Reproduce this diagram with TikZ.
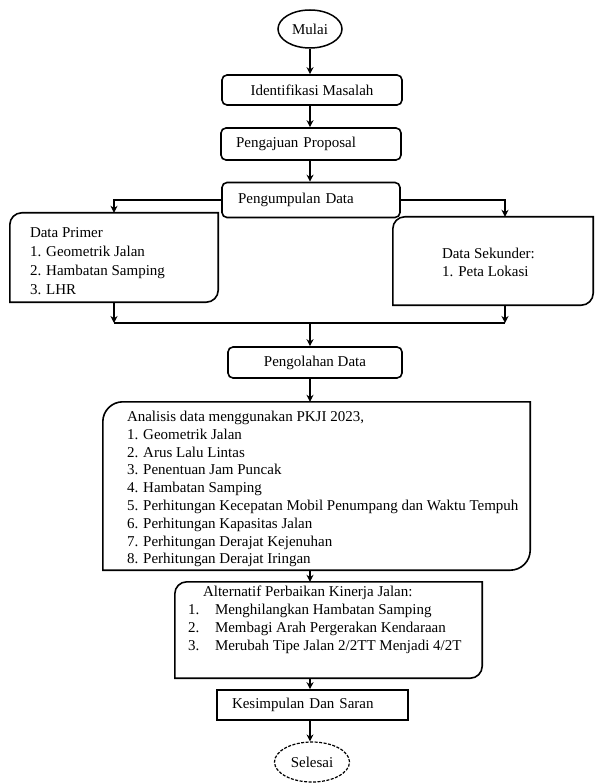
\documentclass[tikz,border=0pt]{standalone}
\usepackage{fontspec}
\setmainfont{Liberation Serif}
\usetikzlibrary{arrows.meta,shapes.geometric}
\def\leafbox(#1)(#2){\draw[line width=1.6pt] (#1.south west) -- ([yshift=-#2]#1.north west) arc (180:90:#2) -- (#1.north east) -- ([yshift=#2]#1.south east) arc (0:-90:#2) -- cycle;}
\tikzset{
	box/.style={draw, line width=1.6pt, rounded corners=5pt, minimum height=30pt, inner sep=0pt},
	leaf/.style={inner sep=0pt},
	leaftext/.style={anchor=north west, align=left, inner sep=0pt},
	ends/.style={ellipse, draw, line width=1.5pt, inner sep=0pt},
	link/.style={line width=1.6pt, -{Stealth[length=7pt,width=7pt]}},
	bar/.style={line width=2.6pt}
}

\begin{document}
\begin{tikzpicture}[x=1pt, y=1pt, font=\fontsize{15}{17.8}\selectfont]
			%%%%% START %%%%%
			\useasboundingbox (0,0) rectangle (595,-783);
			
			\node[ends, minimum width=64pt, minimum height=38pt] (mulai) at (310,-29) {Mulai};
			\node[box, minimum width=180pt] (ident) at (312,-90) {Identifikasi Masalah};
			\node[box, minimum width=180pt, minimum height=32pt, text width=150pt, align=left] (proposal) at (311,-144) {Pengajuan Proposal};
			\node[box, minimum width=178pt, minimum height=35pt, text width=146pt, align=left] (kumpul) at (311,-200) {Pengumpulan Data};
			
			\node[leaf, minimum width=208pt, minimum height=89pt] (primer) at (114,-257.5) {};
			\leafbox(primer)(12pt);
			\node[leaftext, font=\fontsize{15}{19}\selectfont] (primertext) at ([xshift=20pt,yshift=-15pt]primer.north west) {Data Primer\\1. Geometrik Jalan\\2. Hambatan Samping\\3. LHR};
			
			\node[leaf, minimum width=200pt, minimum height=88pt] (sekunder) at (493,-261) {};
			\leafbox(sekunder)(12pt);
			\node[leaftext, font=\fontsize{15}{18}\selectfont] (sekundertext) at ([xshift=49pt,yshift=-31pt]sekunder.north west) {Data Sekunder:\\1. Peta Lokasi};
			
			\coordinate (gabung) at (310,-323);
			\coordinate (kanan) at ([xshift=12pt]sekunder.north);
			
			\node[box, minimum width=174pt, minimum height=31pt] (olah) at (315,-362.5) {Pengolahan Data};
			
			\node[leaf, minimum width=427pt, minimum height=168pt] (analisis) at (316.5,-486) {};
			\leafbox(analisis)(20pt);
			\node[leaftext] (analisistext) at ([xshift=24pt,yshift=-9pt]analisis.north west) {Analisis data menggunakan PKJI 2023,\\1. Geometrik Jalan\\2. Arus Lalu Lintas\\3. Penentuan Jam Puncak\\4. Hambatan Samping\\5. Perhitungan Kecepatan Mobil Penumpang dan Waktu Tempuh\\6. Perhitungan Kapasitas Jalan\\7. Perhitungan Derajat Kejenuhan\\8. Perhitungan Derajat Iringan};
			
			\node[leaf, minimum width=307pt, minimum height=96pt] (alternatif) at (328.5,-630) {};
			\leafbox(alternatif)(12pt);
			\node[leaftext, font=\fontsize{15}{18}\selectfont] (alternatiftext) at ([xshift=13pt,yshift=-4pt]alternatif.north west) {\hspace*{15pt}Alternatif Perbaikan Kinerja Jalan:\\\makebox[27pt][l]{1.}Menghilangkan Hambatan Samping\\\makebox[27pt][l]{2.}Membagi Arah Pergerakan Kendaraan\\\makebox[27pt][l]{3.}Merubah Tipe Jalan 2/2TT Menjadi 4/2T};
			
			\node[box, rounded corners=0pt, minimum width=191pt, text width=161pt, align=left] (simpul) at (312.5,-705) {Kesimpulan Dan Saran};
			\node[ends, line width=1.2pt, dash pattern=on 3pt off 1.5pt, minimum width=75pt, minimum height=40pt] (selesai) at (312,-762) {Selesai};
			
			\draw[link] (mulai.south) -- (mulai.south |- ident.north);
			\draw[link] (ident.south -| gabung) -- (gabung |- proposal.north);
			\draw[link] (proposal.south -| gabung) -- (gabung |- kumpul.north);
			\draw[link] (kumpul.west) -| (primer.north);
			\draw[link] (kumpul.east) -| (kanan);
			\draw[link] (primer.south) -- (primer.south |- gabung);
			\draw[link] (kanan |- sekunder.south) -- (kanan |- gabung);
			\draw[bar] (primer.south |- gabung) -- (kanan |- gabung);
			\draw[link] (gabung) -- (gabung |- olah.north);
			\draw[link] (olah.south -| gabung) -- (gabung |- analisis.north);
			\draw[link] (analisis.south -| gabung) -- (gabung |- alternatif.north);
			\draw[link] (alternatif.south -| gabung) -- (gabung |- simpul.north);
			\draw[link] (simpul.south -| gabung) -- (gabung |- selesai.north);
			
			%%%%% END %%%%%
\end{tikzpicture}
\end{document}
